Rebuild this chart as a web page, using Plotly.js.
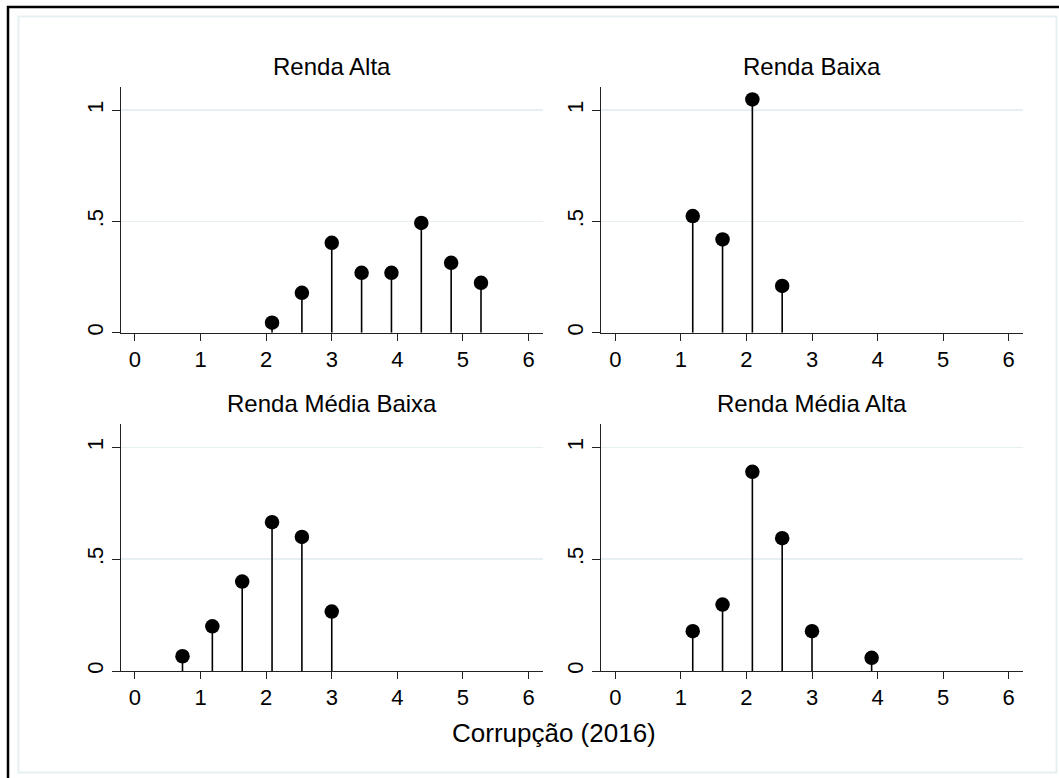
<!DOCTYPE html>
<html>
<head>
<meta charset="utf-8">
<script src="https://cdn.plot.ly/plotly-3.0.1.min.js"></script>
<style>html,body{margin:0;padding:0;background:#fff}#chart{width:1059px;height:778px}</style>
</head>
<body>
<div id="chart"></div>
<script>
// ---- Data (density of Corrupção 2016 by income group) ----
const panelTitles = ["Renda Alta", "Renda Baixa", "Renda Média Baixa", "Renda Média Alta"];
const altaX = [2.09, 2.545, 3.0, 3.455, 3.91, 4.365, 4.82, 5.275];
const altaY = [0.045, 0.179, 0.404, 0.269, 0.269, 0.493, 0.314, 0.224];
const baixaX = [1.18, 1.635, 2.09, 2.545];
const baixaY = [0.524, 0.419, 1.048, 0.210];
const mediaBaixaX = [0.725, 1.18, 1.635, 2.09, 2.545, 3.0];
const mediaBaixaY = [0.066, 0.200, 0.400, 0.666, 0.600, 0.266];
const mediaAltaX = [1.18, 1.635, 2.09, 2.545, 3.0, 3.91];
const mediaAltaY = [0.178, 0.297, 0.891, 0.594, 0.178, 0.059];
const xTickVals = [0, 1, 2, 3, 4, 5, 6];
const yTickVals = [0, 0.5, 1];
const yTickText = ["0", ".5", "1"];
const xAxisTitle = "Corrupção (2016)";

// ---- Layout helpers ----
const W = 1059, H = 778;
const px = v => v / W;
const py = v => 1 - v / H;
const FONT = "Liberation Sans, Arial, sans-serif";
const GRID = "#e6eff1";

const panels = [
  {x: altaX, y: altaY, xd: [120.5, 543], yd: [86.7, 332.7]},
  {x: baixaX, y: baixaY, xd: [601, 1023], yd: [86.7, 332.7]},
  {x: mediaBaixaX, y: mediaBaixaY, xd: [120.5, 543], yd: [424, 671]},
  {x: mediaAltaX, y: mediaAltaY, xd: [601, 1023], yd: [424, 671]}
];

const traces = [];
const layout = {
  width: W, height: H, autosize: false,
  margin: {l: 0, r: 0, t: 0, b: 0, pad: 0},
  paper_bgcolor: "#fff", plot_bgcolor: "#fff",
  showlegend: false, hovermode: false,
  font: {family: FONT, color: "#000"},
  annotations: [], shapes: []
};

panels.forEach((p, i) => {
  const n = i + 1;
  const xa = "x" + (n === 1 ? "" : n), ya = "y" + (n === 1 ? "" : n);
  const sx = [], sy = [];
  p.x.forEach((v, k) => { sx.push(v, v, null); sy.push(0, p.y[k], null); });
  traces.push({type: "scatter", mode: "lines", x: sx, y: sy, xaxis: xa, yaxis: ya,
    line: {color: "#000", width: 1.6}, hoverinfo: "skip"});
  traces.push({type: "scatter", mode: "markers", x: p.x, y: p.y, xaxis: xa, yaxis: ya,
    marker: {color: "#000", size: 14.5, line: {width: 0}}, cliponaxis: false, hoverinfo: "skip"});

  layout["xaxis" + (n === 1 ? "" : n)] = {
    domain: [px(p.xd[0]), px(p.xd[1])], anchor: ya,
    range: [-0.22, 6.22], tickvals: xTickVals, ticks: "outside", ticklen: 7, tickwidth: 1,
    tickcolor: "#222", showline: true, linecolor: "#222", linewidth: 1,
    showgrid: false, zeroline: false, fixedrange: true,
    tickfont: {size: 22, family: FONT, color: "#000"}, ticklabelstandoff: 0
  };
  layout["yaxis" + (n === 1 ? "" : n)] = {
    domain: [py(p.yd[1]), py(p.yd[0])], anchor: xa,
    range: [0, 1.105], tickvals: yTickVals, ticktext: yTickText, tickangle: -90,
    ticks: "outside", ticklen: 8, tickwidth: 1, tickcolor: "#222",
    showline: true, linecolor: "#222", linewidth: 1,
    showgrid: true, gridcolor: GRID, gridwidth: 1.5, zeroline: false, fixedrange: true,
    tickfont: {size: 22, family: FONT, color: "#000"}, ticklabelstandoff: 0
  };
  layout.annotations.push({
    text: panelTitles[i], xref: "paper", yref: "paper", showarrow: false,
    x: px((p.xd[0] + p.xd[1]) / 2), y: py(p.yd[0] - 20.5),
    xanchor: "center", yanchor: "middle", font: {size: 24, family: FONT, color: "#000"}
  });
});

layout.annotations.push({
  text: xAxisTitle, xref: "paper", yref: "paper", showarrow: false,
  x: px(554), y: py(733), xanchor: "center", yanchor: "middle",
  font: {size: 26, family: FONT, color: "#000"}
});

// outer frames
layout.shapes.push({type: "rect", xref: "paper", yref: "paper", layer: "below",
  x0: px(8), x1: px(1070), y0: py(790), y1: py(7), line: {color: "#000", width: 2.5}, fillcolor: "rgba(0,0,0,0)"});
layout.shapes.push({type: "rect", xref: "paper", yref: "paper", layer: "below",
  x0: px(18.5), x1: px(1056.5), y0: py(772.5), y1: py(16.5), line: {color: GRID, width: 2}, fillcolor: "rgba(0,0,0,0)"});

Plotly.newPlot("chart", traces, layout, {staticPlot: true, displayModeBar: false});
</script>
</body>
</html>
